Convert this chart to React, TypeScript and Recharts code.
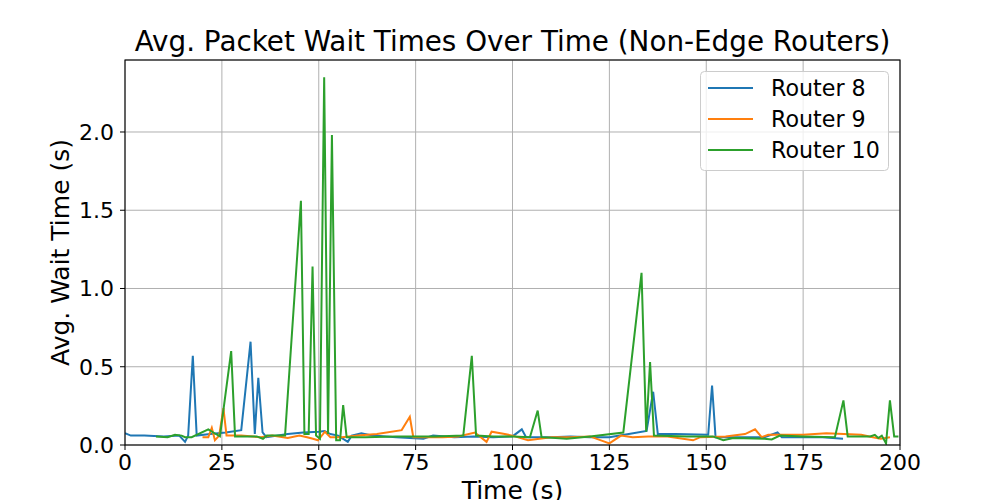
import React from 'react';
import { LineChart, Line, XAxis, YAxis, CartesianGrid } from 'recharts';

// sample times (s) and average wait (s) per router
const router8Times = [0, 1.5, 5, 10, 14, 15.5, 16.3, 17.5, 18.5, 22, 26, 30, 32.4, 33.5, 34.4, 35.5, 36.5, 42, 46, 50, 51.5, 53, 55, 57.5, 58.5, 61, 64, 70, 77, 79.5, 85, 90, 95, 100, 102.4, 103.5, 110, 115, 120, 125, 130, 134.6, 136.3, 137.5, 142, 150.5, 151.5, 152.4, 158, 165, 168.4, 169.5, 175, 180, 185.3];
const router8Waits = [0.075, 0.06, 0.06, 0.055, 0.06, 0.02, 0.06, 0.57, 0.06, 0.07, 0.08, 0.095, 0.66, 0.07, 0.43, 0.08, 0.05, 0.07, 0.08, 0.085, 0.09, 0.07, 0.06, 0.02, 0.06, 0.075, 0.06, 0.05, 0.04, 0.06, 0.05, 0.055, 0.05, 0.055, 0.1, 0.05, 0.05, 0.055, 0.05, 0.05, 0.07, 0.09, 0.34, 0.07, 0.07, 0.065, 0.38, 0.05, 0.05, 0.05, 0.08, 0.05, 0.05, 0.05, 0.04];

const router9Times = [20, 21.5, 22.4, 23.2, 24.3, 25.4, 26.2, 30, 35, 38, 42, 45, 47, 48.5, 49.8, 51.6, 53, 56, 60, 65, 71.4, 73.5, 74.4, 78, 82, 86, 90.3, 93.3, 94.6, 98, 100, 104, 110, 115, 120, 125, 128, 131, 135, 140, 146.6, 148.5, 155, 160, 162.6, 164.3, 166, 175, 181, 190, 193, 195, 197.4];
const router9Waits = [0.05, 0.05, 0.11, 0.03, 0.06, 0.235, 0.06, 0.06, 0.05, 0.06, 0.045, 0.06, 0.05, 0.04, 0.03, 0.085, 0.05, 0.05, 0.06, 0.07, 0.095, 0.18, 0.05, 0.05, 0.05, 0.055, 0.08, 0.02, 0.085, 0.07, 0.06, 0.03, 0.05, 0.05, 0.055, 0.01, 0.06, 0.05, 0.055, 0.055, 0.03, 0.05, 0.055, 0.07, 0.1, 0.05, 0.065, 0.065, 0.075, 0.065, 0.05, 0.04, 0.05];

const router10Times = [8, 11, 12.9, 14.6, 15.5, 17.2, 21.5, 22.8, 24.5, 27.4, 28.4, 34, 35.6, 36.6, 41.3, 45.4, 46.3, 47.4, 48.4, 49.3, 50.3, 51.4, 52.4, 53.4, 54.5, 55.5, 56.3, 57.2, 62, 70, 80, 87.3, 89.5, 90.6, 95, 100, 104.5, 106.5, 107.5, 114, 120, 128.6, 133.3, 134.5, 135.5, 136.5, 145, 151.7, 154.4, 157, 165, 166.9, 169, 175, 183.2, 185.4, 186.5, 192.3, 193.5, 194.4, 195.3, 196.4, 197.4, 198.5, 199.6];
const router10Waits = [0.055, 0.05, 0.065, 0.06, 0.05, 0.05, 0.1, 0.08, 0.055, 0.6, 0.055, 0.055, 0.04, 0.06, 0.06, 1.56, 0.07, 0.07, 1.14, 0.06, 0.04, 2.35, 0.07, 1.98, 0.03, 0.03, 0.255, 0.05, 0.05, 0.055, 0.055, 0.06, 0.57, 0.06, 0.055, 0.055, 0.05, 0.22, 0.05, 0.04, 0.055, 0.08, 1.1, 0.085, 0.53, 0.06, 0.055, 0.055, 0.03, 0.045, 0.04, 0.035, 0.06, 0.055, 0.05, 0.285, 0.055, 0.055, 0.065, 0.045, 0.06, 0.01, 0.285, 0.055, 0.055];

const xTicks = [0, 25, 50, 75, 100, 125, 150, 175, 200];
const yTicks = [0, 0.5, 1.0, 1.5, 2.0];

const SERIES = [
    { name: 'Router 8', color: '#1f77b4', times: router8Times, waits: router8Waits },
    { name: 'Router 9', color: '#ff7f0e', times: router9Times, waits: router9Waits },
    { name: 'Router 10', color: '#2ca02c', times: router10Times, waits: router10Waits },
];

const FONT = '"DejaVu Sans", sans-serif';
const PLOT = { left: 125, top: 60, right: 900, bottom: 445 };

const toPoints = (times: number[], waits: number[]) => times.map((t, i) => ({ t, v: waits[i] }));

const App: React.FC = () => {
    const tickStyle = { fill: '#000', fontSize: 22, fontFamily: FONT };
    return (
        <div style={{ position: 'absolute', left: 0, top: 0, width: 1000, height: 500, background: '#fff', fontFamily: FONT }}>
            <LineChart width={1000} height={500} margin={{ top: 60, right: 100, left: 0, bottom: 0 }}>
                <CartesianGrid stroke="#b0b0b0" strokeWidth={1} />
                <XAxis
                    type="number"
                    dataKey="t"
                    domain={[0, 200]}
                    ticks={xTicks}
                    height={55}
                    axisLine={false}
                    tickLine={{ stroke: '#000' }}
                    tickSize={5}
                    tickMargin={4}
                    tick={tickStyle}
                    allowDataOverflow
                />
                <YAxis
                    type="number"
                    domain={[0, 2.46]}
                    ticks={yTicks}
                    width={125}
                    axisLine={false}
                    tickLine={{ stroke: '#000' }}
                    tickSize={5}
                    tickMargin={6}
                    tick={tickStyle}
                    tickFormatter={(v: number) => v.toFixed(1)}
                    allowDataOverflow
                />
                {SERIES.map(s => (
                    <Line
                        key={s.name}
                        data={toPoints(s.times, s.waits)}
                        dataKey="v"
                        type="linear"
                        stroke={s.color}
                        strokeWidth={2}
                        dot={false}
                        isAnimationActive={false}
                    />
                ))}
            </LineChart>
            <svg width={1000} height={500} style={{ position: 'absolute', left: 0, top: 0, pointerEvents: 'none' }}>
                <rect x={PLOT.left} y={PLOT.top} width={PLOT.right - PLOT.left} height={PLOT.bottom - PLOT.top} fill="none" stroke="#000" strokeWidth={1.1} />
                <text x={512.5} y={51} textAnchor="middle" fontSize={27.8} fill="#000">Avg. Packet Wait Times Over Time (Non-Edge Routers)</text>
                <text x={512.5} y={499} textAnchor="middle" fontSize={25} fill="#000">Time (s)</text>
                <text transform="translate(69 252.5) rotate(-90)" textAnchor="middle" fontSize={25} fill="#000">Avg. Wait Time (s)</text>
                <rect x={700.5} y={71.5} width={188} height={99} rx={4} fill="#fff" fillOpacity={0.8} stroke="#cccccc" strokeWidth={1} />
                {SERIES.map((s, i) => (
                    <g key={s.name}>
                        <line x1={708} x2={753} y1={88 + i * 31} y2={88 + i * 31} stroke={s.color} strokeWidth={2} />
                        <text x={771} y={96 + i * 31} fontSize={22.2} fill="#000">{s.name}</text>
                    </g>
                ))}
            </svg>
        </div>
    );
};

export default App;
